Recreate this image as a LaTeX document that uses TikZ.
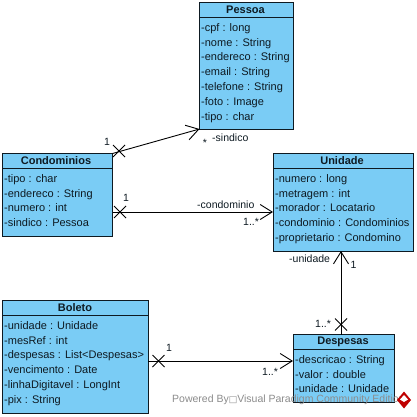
\documentclass[tikz,border=0pt]{standalone}
\usepackage{fontspec}
\setmainfont{Liberation Sans}
\newfontfamily\boxfont{DejaVu Sans}
\usetikzlibrary{arrows.meta,shapes.misc}
\definecolor{classfill}{HTML}{7ACCF5}
\definecolor{ink}{HTML}{0E1A22}
\definecolor{wm}{HTML}{8C8C8C}
\tikzset{
  classbox/.style={draw=ink,line width=0.95pt,fill=classfill,anchor=north west,inner sep=0pt,outer sep=0pt},
  classtitle/.style={font=\fontsize{11}{13}\selectfont\bfseries,text=ink,inner sep=0pt,anchor=center},
  attrs/.style={font=\fontsize{11}{14.9}\selectfont,text=ink,align=left,anchor=north west,inner sep=0pt},
  divider/.style={draw=ink,line width=0.9pt},
  assoc/.style={draw=black,line width=0.9pt},
  openhead/.style={-{Straight Barb[length=12pt,width=15pt,line width=0.9pt]}},
  xmark/.style={cross out,draw=black,line width=0.8pt,minimum size=12pt,inner sep=0pt,outer sep=0pt},
  lbl/.style={font=\fontsize{10.5}{12}\selectfont,text=ink,inner sep=0pt,anchor=center},
  watermark/.style={font=\fontsize{10.5}{12}\selectfont,text=wm,inner sep=0pt,anchor=west},
}
\begin{document}
\begin{tikzpicture}[x=1pt,y=-1pt]
\useasboundingbox (0,0) rectangle (416,417);
\fill[white] (0,0) rectangle (416,417);

% Pessoa
\node[classbox,minimum width=93.5pt,minimum height=126.5pt] (pessoa) at (199.5,2.5) {};
\draw[divider] (199.5,17) -- (293,17);
\node[classtitle] (pessoaT) at (245.5,10) {Pessoa};
\node[attrs] (pessoaA) at (201,23) {-cpf : long\\-nome : String\\-endereco : String\\-email : String\\-telefone : String\\-foto : Image\\-tipo : char};

% Condominios
\node[classbox,minimum width=110pt,minimum height=83pt] (condo) at (2.5,153.5) {};
\draw[divider] (2.5,168) -- (112.5,168);
\node[classtitle] (condoT) at (56,161) {Condominios};
\node[attrs] (condoA) at (4,174) {-tipo : char\\-endereco : String\\-numero : int\\-sindico : Pessoa};

% Unidade
\node[classbox,minimum width=140pt,minimum height=97.5pt] (unidade) at (273,153.5) {};
\draw[divider] (273,168) -- (413,168);
\node[classtitle] (unidadeT) at (342,161) {Unidade};
\node[attrs] (unidadeA) at (275,174) {-numero : long\\-metragem : int\\-morador : Locatario\\-condominio : Condominios\\-proprietario : Condomino};

% Boleto
\node[classbox,minimum width=145.5pt,minimum height=113pt] (boleto) at (2.5,300.5) {};
\draw[divider] (2.5,315) -- (148,315);
\node[classtitle] (boletoT) at (75,308) {Boleto};
\node[attrs] (boletoA) at (4,321) {-unidade : Unidade\\-mesRef : int\\-despesas : List<Despesas>\\-vencimento : Date\\-linhaDigitavel : LongInt\\-pix : String};

% Despesas
\node[classbox,minimum width=101pt,minimum height=68pt] (despesas) at (293,334.5) {};
\draw[divider] (293,349) -- (394,349);
\node[classtitle] (despesasT) at (343,342) {Despesas};
\node[attrs] (despesasA) at (295,355) {-descricao : String\\-valor : double\\-unidade : Unidade};

% Connector anchors
\coordinate (cU) at (condo.east |- 0,212);
\coordinate (uC) at (unidade.west |- 0,212);
\coordinate (bD) at (boleto.east |- 0,361);
\coordinate (dB) at (despesas.west |- 0,361);
\coordinate (dU) at (341,334.5);
\coordinate (uD) at (341,251);

% Connectors
\draw[assoc,openhead] (condo.north east) -- (pessoa.south west);
\draw[assoc,openhead] (cU) -- (uC);
\draw[assoc,openhead] (dU) -- (uD);
\draw[assoc,openhead] (bD) -- (dB);

% Not-navigable ends
\node[xmark] (x1) at (119,151) {};
\node[xmark] (x2) at (120,212) {};
\node[xmark] (x3) at (341,324.5) {};
\node[xmark] (x4) at (158.5,361) {};

% Role and multiplicity labels
\node[lbl] (l1) at (107,142) {1};
\node[lbl] (l2) at (205,142.5) {*};
\node[lbl,anchor=west] (l3) at (212,137.5) {-sindico};
\node[lbl] (l4) at (126,198) {1};
\node[lbl,anchor=west] (l5) at (197,205) {-condominio};
\node[lbl,anchor=west] (l6) at (243,221.5) {1..*};
\node[lbl,anchor=west] (l7) at (289,258.5) {-unidade};
\node[lbl] (l8) at (353.5,264.5) {1};
\node[lbl,anchor=west] (l9) at (315,323.5) {1..*};
\node[lbl] (l10) at (169,347.5) {1};
\node[lbl,anchor=west] (l11) at (262,371.5) {1..*};

% Watermark
\node[watermark] (wmark) at (172,400) {Powered By{\boxfont\fontsize{9}{12}\selectfont □}Visual Paradigm Community Edition};
\fill[red!75!black] (404,391.5) -- (411,400) -- (404,408.5) -- (397,400) -- cycle;
\fill[white] (404,395) -- (408,399.5) -- (404,402) -- (400,399.5) -- cycle;
\end{tikzpicture}
\end{document}
